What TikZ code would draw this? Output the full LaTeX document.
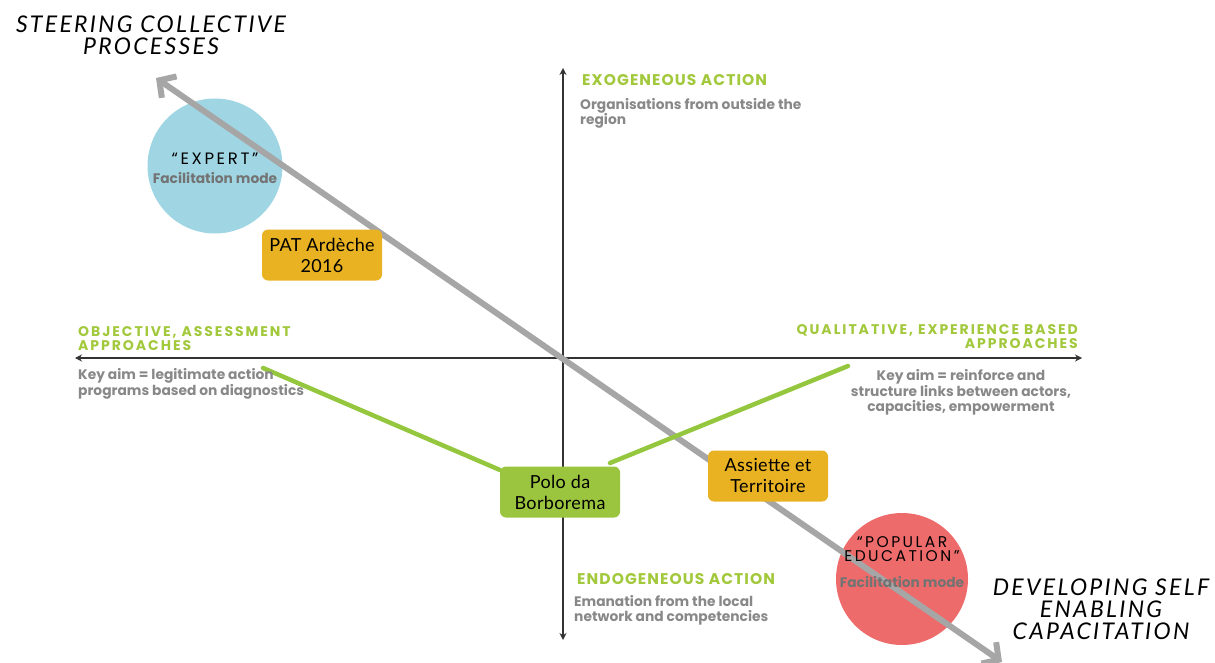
\documentclass[tikz,border=0pt]{standalone}
\usepackage{fontspec}
\setmainfont{Lato}
\newfontfamily\polefont[LetterSpace=10]{Lato}
\newfontfamily\casefont[LetterSpace=2]{Lato}
\newfontfamily\notefont{Poppins}
\newfontfamily\headfont[LetterSpace=7]{Poppins}
\newfontfamily\wideheadfont[LetterSpace=14]{Poppins}
\newfontfamily\modefont[LetterSpace=16]{Poppins}
\usetikzlibrary{arrows.meta,positioning}
\definecolor{expertblue}{HTML}{A0D6E3}
\definecolor{popularred}{HTML}{EE6B6B}
\definecolor{casegold}{HTML}{E8B222}
\definecolor{casegreen}{HTML}{9BC53F}
\definecolor{headgreen}{HTML}{A2C83C}
\definecolor{strokegreen}{HTML}{94C73D}
\definecolor{notegrey}{HTML}{888888}
\definecolor{pathgrey}{HTML}{A6A6A6}

\begin{document}
\begin{tikzpicture}[x=1pt,y=-1pt,
	mode/.style={circle,minimum size=135pt,inner sep=0pt},
	modetext/.style={align=center,inner sep=0pt,font=\modefont\fontsize{16.5}{15}\selectfont},
	modenote/.style={inner sep=0pt,text=black!55,font=\notefont\bfseries\fontsize{13.8}{14}\selectfont},
	case/.style={rounded corners=6pt,minimum width=120pt,minimum height=51pt,
		align=center,inner sep=2pt,font=\casefont\fontsize{18}{21}\selectfont},
	axis/.style={line width=1.6pt,black!80,
		{Stealth[length=7pt,width=7pt]}-{Stealth[length=7pt,width=7pt]}},
	heading/.style={text=headgreen,inner sep=0pt,font=\headfont\bfseries\fontsize{15.5}{15}\selectfont},
	wideheading/.style={heading,font=\wideheadfont\bfseries\fontsize{14}{14}\selectfont},
	note/.style={text=notegrey,inner sep=0pt,font=\notefont\bfseries\fontsize{13.8}{14.5}\selectfont},
	pole/.style={align=center,inner sep=0pt,font=\polefont\itshape\fontsize{23}{22}\selectfont}]
	\useasboundingbox (0,0) rectangle (1215,663);

	% axes
	\coordinate (top) at (563,68);
	\coordinate (bottom) at (563,640);
	\coordinate (left) at (75,358);
	\coordinate (right) at (1082,358);
	\draw[axis] (bottom) -- (top);
	\draw[axis] (left) -- (right);

	% facilitation modes
	\node[mode,fill=expertblue] (expert) at (215,166) {};
	\node[mode,fill=popularred,minimum size=132pt] (popular) at (902,579) {};

	% the diagonal
	\coordinate (steering) at (156,78);
	\coordinate (capacitation) at (1002,662);
	\draw[pathgrey,line width=6pt,
		{Straight Barb[length=12pt,width=26pt]}-{Straight Barb[length=12pt,width=26pt]}]
		(steering) -- (capacitation);

	% green links
	\coordinate (objective) at (263,368);
	\coordinate (qualitative) at (848,366);
	\draw[strokegreen,line width=4.5pt,line cap=round] (objective) -- (500,470);
	\draw[strokegreen,line width=4.5pt,line cap=round] (610,463) -- (qualitative);

	% cases
	\node[case,fill=casegold] (pat) at (322,255) {PAT Ardèche\\2016};
	\node[case,fill=casegreen] (polo) at (560,492) {Polo da\\Borborema};
	\node[case,fill=casegold] (assiette) at (768,476) {Assiette et\\Territoire};

	\node[modetext,anchor=base] (experttext) at (215,165) {“EXPERT”};
	\node[modenote,anchor=base] (expertmode) at (215,184) {Facilitation mode};
	\node[modetext,anchor=base,font=\modefont\fontsize{15.5}{14}\selectfont] (populartext) at (902,561)
		{“POPULAR\\EDUCATION”};
	\node[modenote,anchor=base] (popularmode) at (902,587) {Facilitation mode};

	% poles of the diagonal
	\node[pole,anchor=base] (steertext) at (151,55) {STEERING COLLECTIVE\\PROCESSES};
	\node[pole,anchor=base] (capatext) at (1101,639) {DEVELOPING SELF\\ENABLING\\CAPACITATION};

	% axis labels
	\node[heading,anchor=base west] (exo) at (582,86) {EXOGENEOUS ACTION};
	\node[note,anchor=base west,align=left] (exonote) at (580,125)
		{Organisations from outside the\\region};
	\node[heading,anchor=base west] (endo) at (577,584) {ENDOGENEOUS ACTION};
	\node[note,anchor=base west,align=left] (endonote) at (574,621)
		{Emanation from the local\\network and competencies};
	\node[wideheading,anchor=base west,align=left] (obj) at (78,350)
		{OBJECTIVE, ASSESSMENT\\APPROACHES};
	\node[note,anchor=base west,align=left] (objnote) at (78,395)
		{Key aim = legitimate action\\programs based on diagnostics};
	\node[wideheading,anchor=base east,align=right] (qual) at (1078,348)
		{QUALITATIVE, EXPERIENCE BASED\\APPROACHES};
	\node[note,anchor=base,align=center] (qualnote) at (961,411)
		{Key aim = reinforce and\\structure links between actors,\\capacities, empowerment};
\end{tikzpicture}
\end{document}
